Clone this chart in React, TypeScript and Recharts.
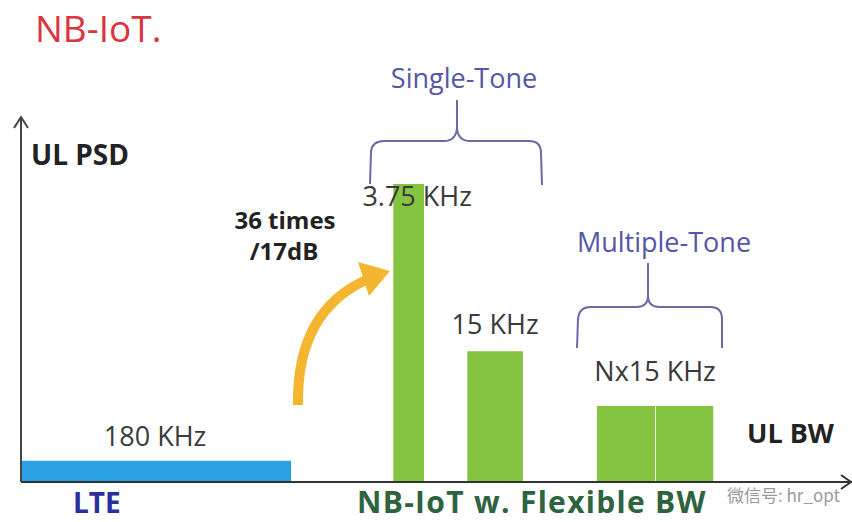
import { ComposedChart, XAxis, YAxis, ReferenceArea, ReferenceLine } from "recharts";

// schematic uplink spectrum blocks (x = bandwidth position, y = PSD, arbitrary units)
const blockNames = ["LTE", "3.75 KHz", "15 KHz", "Nx15 KHz a", "Nx15 KHz b"];
const blockStart = [0, 44.8, 53.7, 69.3, 76.4];
const blockEnd = [32.5, 48.5, 60.4, 76.3, 83.3];
const blockPsd = [7, 98, 43, 25, 25];
const blockLabels = ["180 KHz", "3.75 KHz", "15 KHz", "", ""];

const groupLabels = ["Nx15 KHz"];
const groupStart = [69.3];
const groupEnd = [83.3];
const groupPsd = [25];

const xDomain = [0, 100];
const yDomain = [0, 120];

const LTE_BLUE = "#29a1e2";
const NB_GREEN = "#84c441";
const BRACE = "#6a6aa6";
const FONT = "'Open Sans', sans-serif";

// label placement tweaks (px): gap above top edge, horizontal nudge
const labelGap = [15, -22, 17, 0, 0];
const labelDx = [-1, 8.5, 0, 0, 0];

const blocks = blockNames.map((name, i) => ({
  name,
  start: blockStart[i],
  end: blockEnd[i],
  psd: blockPsd[i],
  label: blockLabels[i],
}));

function SpanLabel(props: any) {
  const { viewBox, text, gap = 0, dx = 0 } = props;
  if (!viewBox || !text) return null;
  const { x, y, width } = viewBox;
  return (
    <text
      x={x + width / 2 + dx}
      y={y - gap}
      textAnchor="middle"
      fontFamily={FONT}
      fontSize={27}
      fill="#3a3a3a"
    >
      {text}
    </text>
  );
}

export default function App() {
  return (
    <div style={{ position: "absolute", left: 0, top: 0, width: 852, height: 522, background: "#fff" }}>
      <ComposedChart
        width={852}
        height={522}
        data={blocks}
        margin={{ top: 117, right: 0, bottom: 40, left: 21 }}
      >
        <XAxis type="number" dataKey="start" domain={xDomain} hide />
        <YAxis type="number" domain={yDomain} hide />
        {blocks.map((b, i) => (
          <ReferenceArea
            key={b.name}
            x1={b.start}
            x2={b.end}
            y1={0}
            y2={b.psd}
            fill={i === 0 ? LTE_BLUE : NB_GREEN}
            fillOpacity={1}
            stroke="none"
            ifOverflow="extendDomain"
            label={<SpanLabel text={b.label} gap={labelGap[i]} dx={labelDx[i]} />}
          />
        ))}
        {groupLabels.map((g, i) => (
          <ReferenceArea
            key={g}
            x1={groupStart[i]}
            x2={groupEnd[i]}
            y1={0}
            y2={groupPsd[i]}
            fill="none"
            fillOpacity={0}
            stroke="none"
            label={<SpanLabel text={g} gap={25} dx={0} />}
          />
        ))}
        {/* axes: UL BW along the bottom, UL PSD up the left */}
        <ReferenceLine y={0} stroke="#333" strokeWidth={2} ifOverflow="visible" />
        <ReferenceLine x={0} stroke="#444" strokeWidth={2} ifOverflow="visible" />
      </ComposedChart>

      <svg
        width={852}
        height={522}
        style={{ position: "absolute", left: 0, top: 0, pointerEvents: "none" }}
      >
        {/* axis arrow heads */}
        <path d="M14 128 L21 117 L28 128" fill="none" stroke="#444" strokeWidth={2} />
        <path d="M841 475 L851 482 L841 489" fill="none" stroke="#333" strokeWidth={2} />

        <text x={35} y={42} fontFamily={FONT} fontSize={37} fill="#d9373f">
          NB-IoT.
        </text>
        <text x={31} y={165} fontFamily={FONT} fontSize={28} fontWeight={700} fill="#222">
          UL PSD
        </text>
        <text x={747} y={443} fontFamily={FONT} fontSize={27} fontWeight={700} fill="#222">
          UL BW
        </text>
        <text x={285} y={229} textAnchor="middle" fontFamily={FONT} fontSize={24} fontWeight={700} fill="#222">
          36 times
        </text>
        <text x={284} y={260} textAnchor="middle" fontFamily={FONT} fontSize={24} fontWeight={700} fill="#222">
          /17dB
        </text>

        {/* gain arrow */}
        <path d="M298 405 C297 345 318 302 366 280" fill="none" stroke="#f4b630" strokeWidth={10} />
        <path d="M390 271 L358 262 L369 296 Z" fill="#f4b630" />

        {/* braces */}
        <path
          d="M370 184 L371 152 Q372 141 384 141 L444 141 Q456 141 457 128 L457 100 M457 128 Q458 141 470 141 L529 141 Q541 141 541 153 L542 185"
          fill="none"
          stroke={BRACE}
          strokeWidth={2}
        />
        <path
          d="M577 348 L578 319 Q579 307 591 307 L636 307 Q648 307 648 296 L648 263 M648 296 Q648 307 660 307 L710 307 Q722 307 722 319 L722 348"
          fill="none"
          stroke={BRACE}
          strokeWidth={2}
        />
        <text x={464} y={88} textAnchor="middle" fontFamily={FONT} fontSize={27} fill="#5656a6">
          Single-Tone
        </text>
        <text x={664} y={252} textAnchor="middle" fontFamily={FONT} fontSize={27} fill="#5656a6">
          Multiple-Tone
        </text>

        <text x={73} y={513} fontFamily={FONT} fontSize={28} fontWeight={700} fill="#2b2f9e">
          LTE
        </text>
        <text x={357} y={513} fontFamily={FONT} fontSize={30} fontWeight={700} letterSpacing={1.3} fill="#2e6340">
          NB-IoT w. Flexible BW
        </text>
        <text x={727} y={502} fontFamily="'Noto Sans CJK SC', sans-serif" fontSize={17} fill="#9a9a9a">
          微信号: hr_opt
        </text>
      </svg>
    </div>
  );
}
